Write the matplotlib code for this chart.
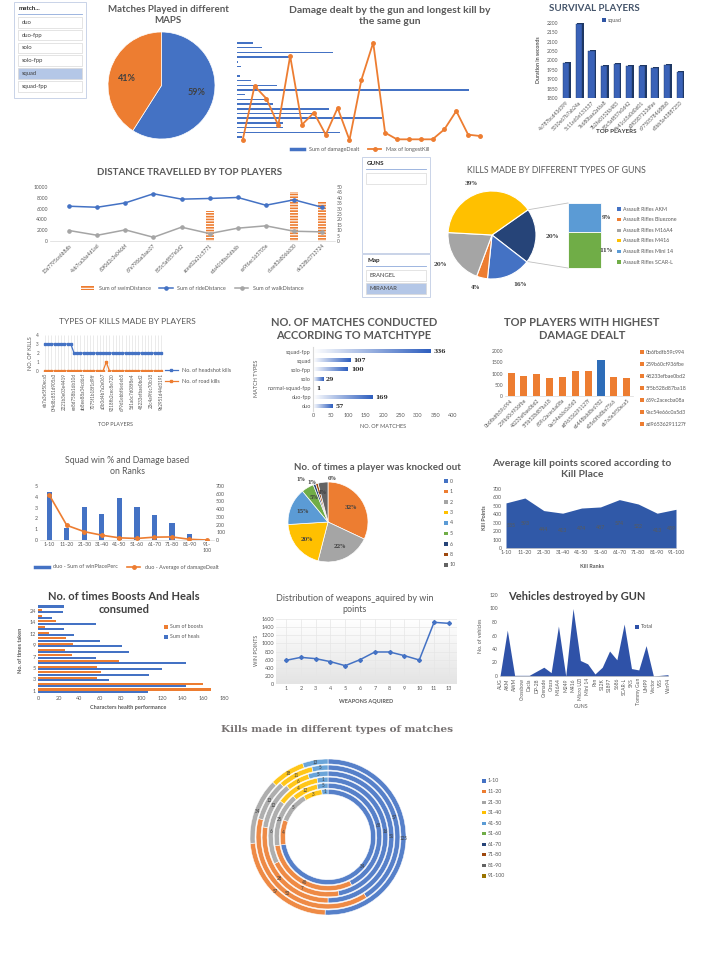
import matplotlib
matplotlib.use('Agg')
import matplotlib.pyplot as plt
import numpy as np
from matplotlib.patches import Rectangle
from matplotlib.lines import Line2D
from matplotlib.colors import LinearSegmentedColormap

W, H = 720, 956
plt.rcParams['font.family'] = ['Lato', 'DejaVu Sans']
plt.rcParams['hatch.linewidth'] = 0.8

BLUE = '#4472C4'; ORANGE = '#ED7D31'; GRAY = '#A5A5A5'; YELLOW = '#FFC000'
LBLUE = '#5B9BD5'; GREEN = '#70AD47'; NAVY = '#264478'; BROWN = '#9E480E'
DGRAY = '#636363'; DYELLOW = '#997300'
TXT = '#595959'

# ---------------- data ----------------
match_types = ['duo', 'duo-fpp', 'solo', 'solo-fpp', 'squad', 'squad-fpp']
map_labels = ['59%', '41%']
map_share = [59, 41]

damage_dealt = [48, 75, 288, 156, 3, 11, 0, 10, 43, 121, 695, 23, 85, 108, 275, 225, 433, 138, 138, 310, 15]
longest_kill = [0, 162, 124, 44, 252, 46, 82, 16, 96, 0, 180, 292, 22, 2, 2, 2, 2, 32, 87, 16, 12]

survival_players = ['4e787bcd43d399', '5310e67b7ab24a', '5c11e60e131537', '7e680bae2af6a8', '7b2fe0152f6483',
                    '85c5af857e0d42', '8e41c65a0d0d01', 'a3f0587123dfae', 'c97505784688b8', 'e5bb5a43887253']
survival_time = [1985, 2195, 2050, 1970, 1980, 1970, 1970, 1962, 1977, 1940]

distance_players = ['13a7795ce6b8db', '4eb7ca36a4d1ad', '60f0d2c3e046bf', '67e7986a3aac07', '855c5af857e0d2',
                    'acee82a21c5771', 'cda4018ba5db6b', 'ce9f6ec165705e', 'dcee83a8066630', 'de328b3713724']
swim_distance = [0, 0, 0, 0, 0, 28, 0, 0, 45, 36]
ride_distance = [6440, 6250, 7060, 8750, 7750, 7875, 8060, 6625, 7625, 6250]
walk_distance = [1940, 1060, 2060, 690, 2560, 1375, 2375, 2810, 1810, 1690]

gun_names = ['Assault Rifles AKM', 'Assault Rifles Bluezone', 'Assault Rifles M16A4',
             'Assault Rifles M416', 'Assault Rifles Mini 14', 'Assault Rifles SCAR-L']
gun_pct = [16, 4, 20, 39, 9, 11]
maps = ['ERANGEL', 'MIRAMAR']

headshot_kills = [3] * 9 + [2] * 28
road_kills = [0] * 19 + [1] + [0] * 17
kill_players = ['eb7a3e5f50eca5', '0f4d8c851d905a3', '2221b3e03e4419', 'ee8d758b16b10d', 'ab8ee88a34cd6cf',
                '7075f1b18f1d9ff', 'a3b0d4b7a2e067', '9218fb2cec8e720', 'd79d1ebbf6e6eb5', '5d1a6c7d08f8e4',
                '48233efbae0bd2', '23c4a9f6c70b18', '9b2951d44d3191']

match_type_names = ['duo', 'duo-fpp', 'normal-squad-fpp', 'solo', 'solo-fpp', 'squad', 'squad-fpp']
match_counts = [57, 169, 1, 29, 100, 107, 336]

damage_players = ['0b6fbdfb59c994', '259b60cf936fbe', '48233efbae0bd2', '5f5b528d87ba18', '659c2acecba08a',
                  '9ac54e66c0a5d3', 'ad96536291127f', 'e6448bdd8e6782', 'e05e0ffa8ba75c6', 'eb7a3e5f50eca5']
damage_top = [1035, 905, 978, 815, 860, 1126, 1111, 1585, 830, 785]

rank_groups = ['1-10', '11-20', '21-30', '31-40', '41-50', '51-60', '61-70', '71-80', '81-90', '91-100']
win_place_sum = [4.47, 1.15, 3.05, 2.42, 3.86, 3.03, 2.35, 1.53, 0.56, 0]
avg_damage = [583, 190, 108, 62, 28, 20, 37, 40, 9, 0]

knock_levels = ['0', '1', '2', '3', '4', '5', '6', '8', '10']
knock_pct = [0, 32, 22, 20, 15, 5, 1, 1, 4]

kill_points = [535, 593, 444, 413, 474, 487, 574, 522, 413, 459]

times_taken = ['1', '2', '3', '4', '5', '6', '7', '8', '9', '10', '12', '13', '14', '18', '24', '30']
boosts = [167, 160, 57, 61, 57, 78, 33, 26, 34, 27, 11, 7, 17, 4, 4, 0]
heals = [106, 143, 69, 107, 120, 143, 56, 88, 81, 60, 35, 25, 56, 14, 24, 25]

weapons_acquired = ['1', '2', '3', '4', '5', '6', '7', '8', '9', '10', '11', '13']
win_points = [583, 656, 624, 550, 451, 599, 788, 788, 697, 591, 1518, 1493]

vehicle_guns = ['AUG', 'AKM', 'AWM', 'Crossbow', 'Dacia', 'DP-28', 'Grenade', 'Groza', 'M16A4', 'M249', 'M416',
                'Micro UZI', 'Mini 14', 'Pan', 'S12K', 'S1897', 'S686', 'SCAR-L', 'SKS', 'Tommy Gun', 'UMP9',
                'Vector', 'VSS', 'Win94']
vehicles_destroyed = [0, 68, 1, 1, 1, 7, 13, 5, 74, 0, 100, 23, 18, 3, 13, 37, 24, 77, 11, 9, 45, 0, 1, 2]

# rings from inner to outer, values for 1-10, 11-20, 21-30, 31-40, 41-50
donut_rings = [
    [34, 4, 5, 3, 1],
    [65, 45, 25, 12, 5],
    [16, 7, 6, 4, 1],
    [51, 28, 12, 6, 5],
    [57, 53, 13, 11, 5],
    [125, 57, 34, 18, 13],
]

# ---------------- helpers ----------------
fig = plt.figure(figsize=(7.2, 9.56), dpi=100)
bg = fig.add_axes([0, 0, 1, 1])
bg.set_xlim(0, W); bg.set_ylim(H, 0); bg.axis('off')


def box(x, y, w, h):
    ax = fig.add_axes([x / W, 1 - (y + h) / H, w / W, h / H])
    ax.patch.set_alpha(0)
    return ax


def clean(ax, size=3.8):
    for s in ax.spines.values():
        s.set_visible(False)
    ax.tick_params(length=0, labelsize=size, labelcolor=TXT, pad=1.5)


def title(x, y, s, size=7.5, weight='bold', color=TXT, **kw):
    bg.text(x, y, s, ha='center', va='center', fontsize=size, fontweight=weight,
            color=color, linespacing=1.15, **kw)


def key(x, y, color, label, size=4):
    bg.add_patch(Rectangle((x - 1.6, y - 1.6), 3.2, 3.2, color=color, lw=0))
    bg.text(x + 4, y, label, fontsize=size, color=TXT, va='center')


def legend_at(x, y, handles, labels, ncol, **kw):
    fig.legend(handles, labels, loc='center', bbox_to_anchor=(x / W, 1 - y / H), ncol=ncol,
               frameon=False, fontsize=4, handlelength=2.4, columnspacing=1.6, labelcolor=TXT, **kw)


def slicer(x, y, w, h, head, items, sel, first, step, ih):
    bg.add_patch(Rectangle((x, y), w, h, fill=False, ec='#C9D3E8', lw=0.7))
    bg.text(x + 5, y + 6.5, head, fontsize=4.5, fontweight='bold', color='#262626', va='center')
    bg.plot([x + 4, x + w - 4], [y + 12, y + 12], color='#8EA9DB', lw=0.6)
    for i, it in enumerate(items):
        yy = y + first + i * step
        fc = '#B4C7E7' if it == sel else 'white'
        bg.add_patch(Rectangle((x + 4, yy), w - 8, ih, fc=fc, ec='#D9D9D9', lw=0.5))
        bg.text(x + 8, yy + ih / 2, it, fontsize=4.2, color='#404040', va='center')


# ---------------- row 1 ----------------
slicer(14, 2, 72, 96, 'match...', match_types, 'squad', 15, 12.8, 10.5)

title(168, 15, 'Matches Played in different\nMAPS', size=7)
ax = box(108, 32, 107, 107)
ax.pie(map_share, colors=[BLUE, ORANGE], startangle=90, counterclock=False, labels=map_labels,
       labeldistance=0.5, wedgeprops=dict(edgecolor='white', linewidth=0.5),
       textprops=dict(fontsize=6.5, fontweight='bold', color='#404040'))
ax.set_xlim(-1, 1); ax.set_ylim(-1, 1)

title(390, 16, 'Damage dealt by the gun and longest kill by\nthe same gun', size=7.5)
ax = box(237, 40, 243, 100)
ax.barh(np.arange(len(damage_dealt)), damage_dealt, height=0.3, color=BLUE)
ax.set_ylim(20.64, -0.64); ax.set_xlim(0, 728); ax.axis('off')
ax = box(237, 40, 243, 100)
ax.plot(np.arange(len(longest_kill)), longest_kill, color=ORANGE, marker='o', ms=2.5, lw=1.3, clip_on=False)
ax.set_xlim(-0.48, 20); ax.set_ylim(0, 300); ax.axis('off')
legend_at(360, 149, [Line2D([], [], color=BLUE, lw=2.5),
                     Line2D([], [], color=ORANGE, lw=1.3, marker='o', ms=2.5)],
          ['Sum of damageDealt', 'Max of longestKill'], 2)

title(594, 8, 'SURVIVAL PLAYERS', size=7, color='#44546A')
ax = box(560, 23, 126, 75)
x = np.arange(len(survival_time))
ax.bar(x + 0.13, np.array(survival_time) + 6, width=0.5, color='#1F3864')
ax.bar(x, survival_time, width=0.5, color='#3A62B8', ec='#1F3864', lw=0.3)
ax.set_ylim(1800, 2200); ax.set_xlim(-0.5, 9.5)
ax.set_yticks(range(1800, 2201, 50))
ax.set_xticks(x, survival_players, rotation=45, ha='right', rotation_mode='anchor')
clean(ax, 3.6)
key(604, 20, '#2F55A4', 'squad', 3.8)
bg.text(616, 131, 'TOP PLAYERS', fontsize=4.5, fontweight='bold', color='#404040', ha='center', va='center')
bg.text(538, 60, 'Duration in seconds', fontsize=3.8, fontweight='bold', color=TXT, rotation=90,
        ha='center', va='center')

# ---------------- row 2 ----------------
title(190, 172, 'DISTANCE TRAVELLED BY TOP PLAYERS', size=7)
ax = box(50, 187, 285, 54)
x = np.arange(len(distance_players))
ax2 = ax.twinx()
ax2.bar(x, swim_distance, width=0.28, color=ORANGE, hatch='------', ec='white', lw=0)
ax2.set_ylim(0, 50); ax2.set_yticks(range(0, 51, 5))
ax.plot(x, ride_distance, color=BLUE, marker='o', ms=2.3, lw=1.1, zorder=3)
ax.plot(x, walk_distance, color=GRAY, marker='o', ms=2.3, lw=1.1, zorder=3)
ax.set_ylim(0, 10000); ax.set_yticks(range(0, 10001, 2000))
ax.set_xlim(-0.68, 9.46)
ax.set_xticks(x, distance_players, rotation=45, ha='right', rotation_mode='anchor')
ax.set_zorder(ax2.get_zorder() + 1)
clean(ax, 3.6); clean(ax2, 3.6)
ax.spines['bottom'].set_visible(True); ax.spines['bottom'].set_color('#D9D9D9'); ax.spines['bottom'].set_lw(0.5)
legend_at(192, 288, [Rectangle((0, 0), 1, 1, fc=ORANGE, hatch='-----', ec='white', lw=0),
                     Line2D([], [], color=BLUE, marker='o', ms=2.3, lw=1.1),
                     Line2D([], [], color=GRAY, marker='o', ms=2.3, lw=1.1)],
          ['Sum of swimDistance', 'Sum of rideDistance', 'Sum of walkDistance'], 3)

slicer(362, 157, 68, 96, 'GUNS', [''], None, 16, 12, 11)
slicer(362, 254, 68, 43, 'Map', maps, 'MIRAMAR', 16, 13, 11)

title(556, 170, 'KILLS MADE BY DIFFERENT TYPES OF GUNS', size=6.3, weight='normal')
other = gun_pct[4] + gun_pct[5]
main_vals = [other] + gun_pct[:4]
main_lbls = ['%d%%' % v for v in main_vals]
ax = box(448, 191, 88, 88)
ax.pie(main_vals, colors=[NAVY, BLUE, ORANGE, GRAY, YELLOW], startangle=35, counterclock=False,
       labels=main_lbls, labeldistance=1.22, wedgeprops=dict(edgecolor='white', linewidth=0.8),
       textprops=dict(fontsize=4, fontweight='bold', color='#404040', family='DejaVu Serif'))
ax.set_xlim(-1, 1); ax.set_ylim(-1, 1)
bx, by, bw, bh = 568, 203, 33, 65
h_top = bh * gun_pct[4] / other
bg.add_patch(Rectangle((bx, by), bw, h_top, fc=LBLUE, ec='white', lw=0.6))
bg.add_patch(Rectangle((bx, by + h_top), bw, bh - h_top, fc=GREEN, ec='white', lw=0.6))
bg.text(bx + 38, by + h_top / 2, '%d%%' % gun_pct[4], fontsize=4, fontweight='bold', color='#404040',
        va='center', ha='center', family='DejaVu Serif')
bg.text(bx + 38, by + h_top + (bh - h_top) / 2, '%d%%' % gun_pct[5], fontsize=4, fontweight='bold',
        color='#404040', va='center', ha='center', family='DejaVu Serif')
for ang, yy in [(35, by), (-37, by + bh)]:
    px = 492 + 44 * np.cos(np.deg2rad(ang)); py = 235 - 44 * np.sin(np.deg2rad(ang))
    bg.plot([px, bx], [py, yy], color='#BFBFBF', lw=0.6)
for i, (n, c) in enumerate(zip(gun_names, [BLUE, ORANGE, GRAY, YELLOW, LBLUE, GREEN])):
    key(619, 209 + 10.6 * i, c, n, 3.8)

# ---------------- row 3 ----------------
title(127, 322, 'TYPES OF KILLS MADE BY PLAYERS', size=6, weight='normal')
ax = box(41, 335, 122, 36)
x = np.arange(len(headshot_kills))
ax.vlines(x, 0, 4, color='#E3E3E3', lw=0.5)
ax.plot(x, headshot_kills, color=BLUE, marker='s', ms=1.6, lw=0.9)
ax.plot(x, road_kills, color=ORANGE, marker='s', ms=1.6, lw=0.9)
ax.set_ylim(0, 4); ax.set_yticks(range(5)); ax.set_xlim(-1.24, 36.6)
ax.set_xticks(x[::3], kill_players, rotation=90)
clean(ax, 3.3)
legend_at(198, 376, [Line2D([], [], color=BLUE, marker='s', ms=1.8, lw=0.9),
                     Line2D([], [], color=ORANGE, marker='s', ms=1.8, lw=0.9)],
          ['No. of headshot kills', 'No. of road kills'], 1, labelspacing=1.2)
bg.text(116, 425, 'TOP PLAYERS', fontsize=4, color=TXT, ha='center', va='center')
bg.text(30, 353, 'NO. OF KILLS', fontsize=4, color=TXT, ha='center', va='center', rotation=90)

title(354, 329, 'NO. OF MATCHES CONDUCTED\nACCORDING TO MATCHTYPE', size=8)
ax = box(313, 347, 140, 64)
grad = np.linspace(0, 1, 100).reshape(1, -1)
cmap = LinearSegmentedColormap.from_list('bar', ['#FFFFFF', '#2F5FBF'])
for i, v in enumerate(match_counts):
    ax.imshow(grad, extent=[0, v, i - 0.17, i + 0.17], aspect='auto', cmap=cmap, zorder=2)
    ax.text(v + 8, i, str(v), fontsize=4.3, fontweight='bold', color='#262626', va='center',
            family='DejaVu Serif')
ax.set_xlim(0, 400); ax.set_ylim(-0.5, 6.5)
ax.set_xticks(range(0, 401, 50))
ax.set_yticks(range(len(match_type_names)), match_type_names)
clean(ax, 4)
ax.spines['left'].set_visible(True); ax.spines['left'].set_color('#D9D9D9')
bg.text(383, 427, 'NO. OF MATCHES', fontsize=4, color=TXT, ha='center', va='center')
bg.text(256, 378, 'MATCH TYPES', fontsize=4, color=TXT, ha='center', va='center', rotation=90)

title(582, 329, 'TOP PLAYERS WITH HIGHEST\nDAMAGE DEALT', size=8)
ax = box(505, 351, 128, 45)
x = np.arange(len(damage_top))
cols = [ORANGE] * len(damage_top)
cols[7] = '#2E6DB8'
ax.bar(x, damage_top, width=0.55, color=cols)
ax.set_ylim(0, 2000); ax.set_yticks(range(0, 2001, 500)); ax.set_xlim(-0.47, 9.49)
ax.set_xticks(x, damage_players, rotation=45, ha='right', rotation_mode='anchor')
clean(ax, 3.6)
ax.spines['bottom'].set_visible(True); ax.spines['bottom'].set_color('#D9D9D9'); ax.spines['bottom'].set_lw(0.5)
for i, n in enumerate(damage_players[:7]):
    key(642, 352 + 12 * i, ORANGE, n, 3.8)

# ---------------- row 4 ----------------
title(127, 466, 'Squad win % and Damage based\non Ranks', size=6.3, weight='normal')
ax = box(40, 486, 174, 54)
x = np.arange(len(rank_groups))
ax.bar(x, win_place_sum, width=0.3, color=BLUE)
ax.set_ylim(0, 5); ax.set_xlim(-0.53, 9.4)
ax.set_xticks(x, [g.replace('91-', '91-\n') for g in rank_groups])
ax2 = ax.twinx()
ax2.plot(x, avg_damage, color=ORANGE, marker='o', ms=2.5, lw=1.2)
ax2.set_ylim(0, 700); ax2.set_yticks(range(0, 701, 100))
clean(ax, 3.8); clean(ax2, 3.8)
ax.spines['bottom'].set_visible(True); ax.spines['bottom'].set_color('#D9D9D9'); ax.spines['bottom'].set_lw(0.5)
legend_at(127, 567, [Line2D([], [], color=BLUE, lw=2.5),
                     Line2D([], [], color=ORANGE, marker='o', ms=2.5, lw=1.2)],
          ['duo - Sum of winPlacePerc', 'duo - Average of damageDealt'], 2)

title(377, 467, 'No. of times a player was knocked out', size=7)
ax = box(288, 482, 80, 80)
knock_cols = [BLUE, ORANGE, GRAY, YELLOW, LBLUE, GREEN, NAVY, BROWN, DGRAY]
wedges, _ = ax.pie(knock_pct, colors=knock_cols, startangle=90, counterclock=False,
                   wedgeprops=dict(edgecolor='white', linewidth=0.5))
ax.set_xlim(-1, 1); ax.set_ylim(-1, 1)
# small slices near the top get their labels pushed outward
knock_dist = [1.1, 0.68, 0.68, 0.68, 0.68, 0.7, 1.12, 1.02, 0.75]
knock_nudge = [0.1, 0, 0, 0, 0, 0, -0.3, -0.12, -0.05]
for w, v, d, nx in zip(wedges, knock_pct, knock_dist, knock_nudge):
    a = np.deg2rad((w.theta1 + w.theta2) / 2)
    ax.text(d * np.cos(a) + nx, d * np.sin(a), '%d%%' % v, fontsize=3.8, fontweight='bold',
            color='#404040', family='DejaVu Serif', ha='center', va='center')
for i, (n, c) in enumerate(zip(knock_levels, knock_cols)):
    key(446, 481 + 10.5 * i, c, n, 3.8)

title(582, 469, 'Average kill points scored according to\nKill Place', size=7.5)
ax = box(506, 489, 170, 59)
x = np.arange(len(kill_points))
ax.fill_between(x, kill_points, color='#3059A8', lw=0)
for i, v in enumerate(kill_points):
    xi = min(max(i, 0.25), 8.75)
    ax.text(xi, v * 0.5, str(v), fontsize=3.8, color='#595959', ha='center', va='center')
ax.set_xlim(0, 9); ax.set_ylim(0, 700); ax.set_yticks(range(0, 701, 100))
ax.set_xticks(x, rank_groups)
clean(ax, 3.8)
ax.tick_params(axis='y', pad=3)
ax.spines['bottom'].set_visible(True); ax.spines['bottom'].set_color('#BFBFBF'); ax.spines['bottom'].set_lw(0.5)
bg.text(592, 567, 'Kill Ranks', fontsize=4, fontweight='bold', color=TXT, ha='center', va='center')
bg.text(484, 518, 'Kill Points', fontsize=4, fontweight='bold', color=TXT, ha='center', va='center', rotation=90)

# ---------------- row 5 ----------------
title(124, 603, 'No. of times Boosts And Heals\nconsumed', size=8, color='#404040')
ax = box(38, 602, 186, 92)
y = np.arange(len(times_taken))
ax.barh(y + 0.19, boosts, height=0.36, color=ORANGE)
ax.barh(y - 0.19, heals, height=0.36, color=BLUE)
ax.set_ylim(-0.6, 15.6); ax.set_xlim(0, 180); ax.set_xticks(range(0, 181, 20))
ax.set_yticks(y[::2], times_taken[::2])
clean(ax, 4)
key(166, 627, ORANGE, 'Sum of boosts', 3.8)
key(166, 637, BLUE, 'Sum of heals', 3.8)
bg.text(128, 707, 'Characters health performance', fontsize=4, fontweight='bold', color=TXT,
        ha='center', va='center')
bg.text(21, 650, 'No. of times taken', fontsize=4, fontweight='bold', color=TXT, ha='center',
        va='center', rotation=90)

title(355, 604, 'Distribution of weapons_aquired by win\npoints', size=6.5, weight='normal')
ax = box(276, 619, 181, 65)
x = np.arange(len(win_points))
shade = np.linspace(0, 1, 100).reshape(-1, 1)
ax.imshow(shade, extent=[-0.68, 11.55, 0, 1600], aspect='auto', zorder=0,
          cmap=LinearSegmentedColormap.from_list('bgr', ['#FFFFFF', '#E4E4E4']), origin='upper')
ax.vlines(x, 0, 1600, color='#E6E6E6', lw=0.5, zorder=1)
ax.set_yticks(range(0, 1601, 200))
ax.grid(axis='y', color='#E6E6E6', lw=0.5)
ax.plot(x, win_points, color=BLUE, marker='D', ms=2, lw=1.1, zorder=3)
ax.set_xlim(-0.68, 11.55); ax.set_ylim(0, 1600)
ax.set_xticks(x, weapons_acquired)
clean(ax, 4)
bg.text(366, 702, 'WEAPONS AQUIRED', fontsize=4, fontweight='bold', color=TXT, ha='center', va='center')
bg.text(256, 650, 'WIN POINTS', fontsize=3.8, color=TXT, ha='center', va='center', rotation=90)

title(577, 596, 'Vehicles destroyed by GUN', size=8, color='#404040')
ax = box(500, 595, 168, 81)
x = np.arange(len(vehicles_destroyed))
ax.fill_between(x, vehicles_destroyed, color='#2F52A8', lw=0)
ax.set_xlim(0, 23); ax.set_ylim(0, 120); ax.set_yticks(range(0, 121, 20))
ax.set_xticks(x, vehicle_guns, rotation=90)
clean(ax, 3.6)
ax.spines['bottom'].set_visible(True); ax.spines['bottom'].set_color('#BFBFBF'); ax.spines['bottom'].set_lw(0.5)
key(637, 627, '#2F52A8', 'Total', 4)
bg.text(581, 707, 'GUNS', fontsize=3.8, color=TXT, ha='center', va='center')
bg.text(480, 636, 'No. of vehicles', fontsize=3.8, color=TXT, ha='center', va='center', rotation=90)

# ---------------- donut ----------------
bg.text(337, 730, 'Kills made in different types of matches', ha='center', va='center', fontsize=7.5,
        fontweight='heavy', color='#767171', family='DejaVu Serif')
ax = box(248, 757, 160, 160)
ring_cols = [BLUE, ORANGE, GRAY, YELLOW, LBLUE]
for i, vals in enumerate(donut_rings):
    r = 41.7 + 6.05 * (i + 1)
    wedges, _ = ax.pie(vals, radius=r, colors=ring_cols, startangle=90, counterclock=False,
                       wedgeprops=dict(width=5, edgecolor='white', linewidth=0.4, alpha=0.9))
    for w, v in zip(wedges, vals):
        a = np.deg2rad((w.theta1 + w.theta2) / 2)
        ax.text((r - 2.5) * np.cos(a), (r - 2.5) * np.sin(a), str(v), ha='center', va='center',
                fontsize=3.3, color='#404040')
ax.set_xlim(-80, 80); ax.set_ylim(-80, 80)
donut_cols = [BLUE, ORANGE, GRAY, YELLOW, LBLUE, GREEN, NAVY, BROWN, DGRAY, DYELLOW]
for i, (g, c) in enumerate(zip(rank_groups, donut_cols)):
    key(484, 781 + 10.55 * i, c, g, 3.8)

fig.savefig('out.png', dpi=100, facecolor='white')
